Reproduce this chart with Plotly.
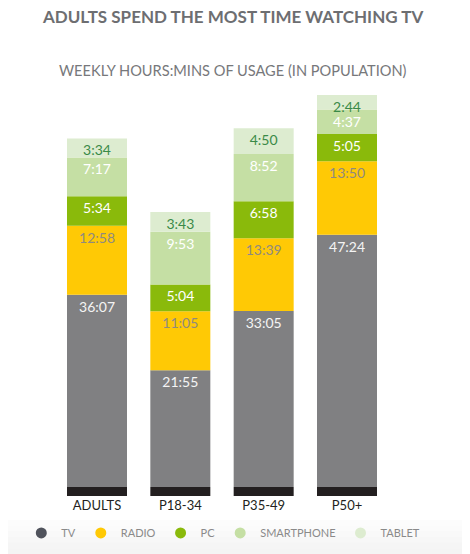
import plotly.graph_objects as go

groups = ['ADULTS', 'P18-34', 'P35-49', 'P50+']
tv = ['36:07', '21:55', '33:05', '47:24']
radio = ['12:58', '11:05', '13:39', '13:50']
pc = ['5:34', '5:04', '6:58', '5:05']
smartphone = ['7:17', '9:53', '8:52', '4:37']
tablet = ['3:34', '3:43', '4:50', '2:44']


def to_hours(labels):
    out = []
    for s in labels:
        h, m = s.split(':')
        out.append(int(h) + int(m) / 60)
    return out


# name, labels, bar colour, text colour, legend dot colour
series = [
    ('TV', tv, '#808082', '#f4f4f4', '#50535c'),
    ('RADIO', radio, '#ffc905', '#8f8a80', '#ffc905'),
    ('PC', pc, '#8aba0b', '#ffffff', '#8aba0b'),
    ('SMARTPHONE', smartphone, '#c5dfa4', '#ffffff', '#c5dfa4'),
    ('TABLET', tablet, '#ddecd0', '#3a8a48', '#ddecd0'),
]

fig = go.Figure()

# dark base strip under each column
fig.add_trace(go.Bar(
    x=groups, y=[-1.7] * len(groups),
    marker=dict(color='#231f20', line=dict(width=0)),
    showlegend=False, hoverinfo='skip'
))

for name, labels, color, tcolor, dot in series:
    fig.add_trace(go.Bar(
        x=groups, y=to_hours(labels), name=name,
        text=labels, textposition='inside', insidetextanchor='end',
        textangle=0,
        textfont=dict(family='Lato', size=14, color=tcolor),
        marker=dict(color=color, line=dict(width=0)),
        showlegend=False
    ))

for name, labels, color, tcolor, dot in series:
    fig.add_trace(go.Scatter(
        x=[None], y=[None], mode='markers', name=name,
        marker=dict(symbol='circle', size=11, color=dot)
    ))

# faint grey fade behind the legend
for i in range(6):
    y0 = -0.059 - i * 0.014
    fig.add_shape(type='rect', xref='paper', yref='paper',
                  x0=0, x1=1, y0=y0 - 0.014, y1=y0,
                  fillcolor='#e9e9e9', opacity=0.12 + i * 0.08,
                  line=dict(width=0), layer='below')

fig.add_annotation(
    text='<b>ADULTS SPEND THE MOST TIME WATCHING TV</b>',
    xref='paper', yref='paper', x=0.485, y=1.181, showarrow=False,
    xanchor='center', yanchor='middle',
    font=dict(family='Lato', size=17, color='#6d6e71')
)
fig.add_annotation(
    text='WEEKLY HOURS:MINS OF USAGE (IN POPULATION)',
    xref='paper', yref='paper', x=0.486, y=1.047, showarrow=False,
    xanchor='center', yanchor='middle',
    font=dict(family='Lato', size=14.6, color='#77787b')
)

fig.update_layout(
    width=462, height=546,
    barmode='relative', bargap=0.28,
    margin=dict(l=0, r=0, t=82, b=58, autoexpand=False),
    paper_bgcolor='white', plot_bgcolor='white',
    uniformtext=dict(minsize=14, mode='show'),
    showlegend=True,
    legend=dict(
        orientation='h', x=0.466, xanchor='center', y=-0.091, yanchor='middle',
        font=dict(family='Lato', size=11, color='#8a8a8a'),
        itemwidth=30, bgcolor='rgba(0,0,0,0)'
    ),
    xaxis=dict(
        showline=False, showgrid=False, zeroline=False, ticks='',
        tickfont=dict(family='Lato', size=13, color='#231f20'),
        range=[-1.068, 4.476], automargin=False
    ),
    yaxis=dict(visible=False, range=[-1.7, 74.6]),
)

fig.write_html('out.html')
